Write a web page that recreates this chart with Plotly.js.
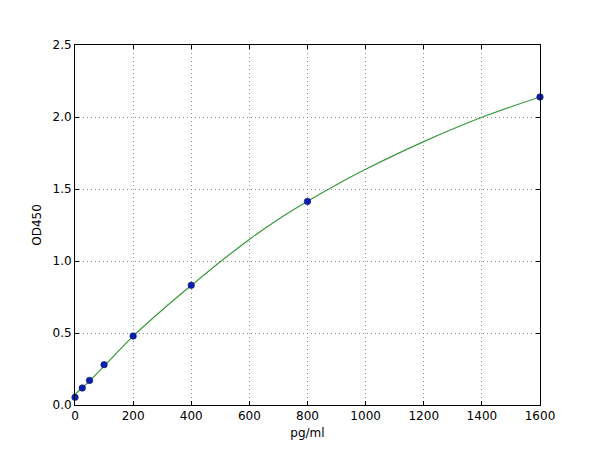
<!DOCTYPE html>
<html>
<head>
<meta charset="utf-8">
<script src="https://cdn.plot.ly/plotly-3.0.1.min.js"></script>
<style>
  body { margin: 0; background: #fff; }
  #chart { width: 600px; height: 450px; }
</style>
</head>
<body>
<div id="chart"></div>
<script>
// standards (pg/ml) and measured OD450
const concentrations = [0, 25, 50, 100, 200, 400, 800, 1600];
const odValues = [0.053, 0.118, 0.171, 0.28, 0.479, 0.831, 1.414, 2.139];

// fitted curve
const curveX = [0, 25, 50, 100, 200, 300, 400, 500, 600, 700, 800, 900, 1000, 1200, 1400, 1600];
const curveY = [0.075, 0.12, 0.166, 0.27, 0.478, 0.66, 0.83, 0.995, 1.15, 1.29, 1.415, 1.53, 1.637, 1.829, 1.998, 2.139];

const xTicks = [0, 200, 400, 600, 800, 1000, 1200, 1400, 1600];
const yTicks = [0, 0.5, 1.0, 1.5, 2.0, 2.5];

const fontFamily = 'DejaVu Sans, sans-serif';

const axisStyle = {
  showline: true,
  linecolor: '#000',
  linewidth: 1,
  mirror: 'ticks',
  ticks: 'inside',
  ticklen: 4,
  tickcolor: '#000',
  showgrid: true,
  gridcolor: '#8c8c8c',
  griddash: '1px,3px',
  gridwidth: 1,
  zeroline: false,
  tickfont: { family: fontFamily, size: 12, color: '#000' },
};

const traces = [
  {
    x: curveX,
    y: curveY,
    mode: 'lines',
    line: { color: '#38993a', width: 1.2, shape: 'spline' },
    hoverinfo: 'none',
    showlegend: false,
  },
  {
    x: concentrations,
    y: odValues,
    mode: 'markers',
    marker: { color: '#0a1fb0', size: 6.5, line: { color: '#0b1a6a', width: 0.6 } },
    cliponaxis: false,
    hoverinfo: 'none',
    showlegend: false,
  },
];

const layout = {
  width: 600,
  height: 450,
  margin: { l: 75, r: 60, t: 45, b: 45 },
  paper_bgcolor: '#fff',
  plot_bgcolor: '#fff',
  font: { family: fontFamily, size: 12, color: '#000' },
  xaxis: Object.assign({}, axisStyle, {
    range: [0, 1600],
    tickvals: xTicks,
    ticktext: xTicks.map(String),
    title: { text: 'pg/ml', font: { family: fontFamily, size: 12 }, standoff: 6 },
  }),
  yaxis: Object.assign({}, axisStyle, {
    range: [0, 2.5],
    tickvals: yTicks,
    ticktext: yTicks.map((v) => v.toFixed(1)),
    title: { text: 'OD450', font: { family: fontFamily, size: 12 }, standoff: 8 },
  }),
};

Plotly.newPlot('chart', traces, layout, { staticPlot: true, displayModeBar: false });
</script>
</body>
</html>
